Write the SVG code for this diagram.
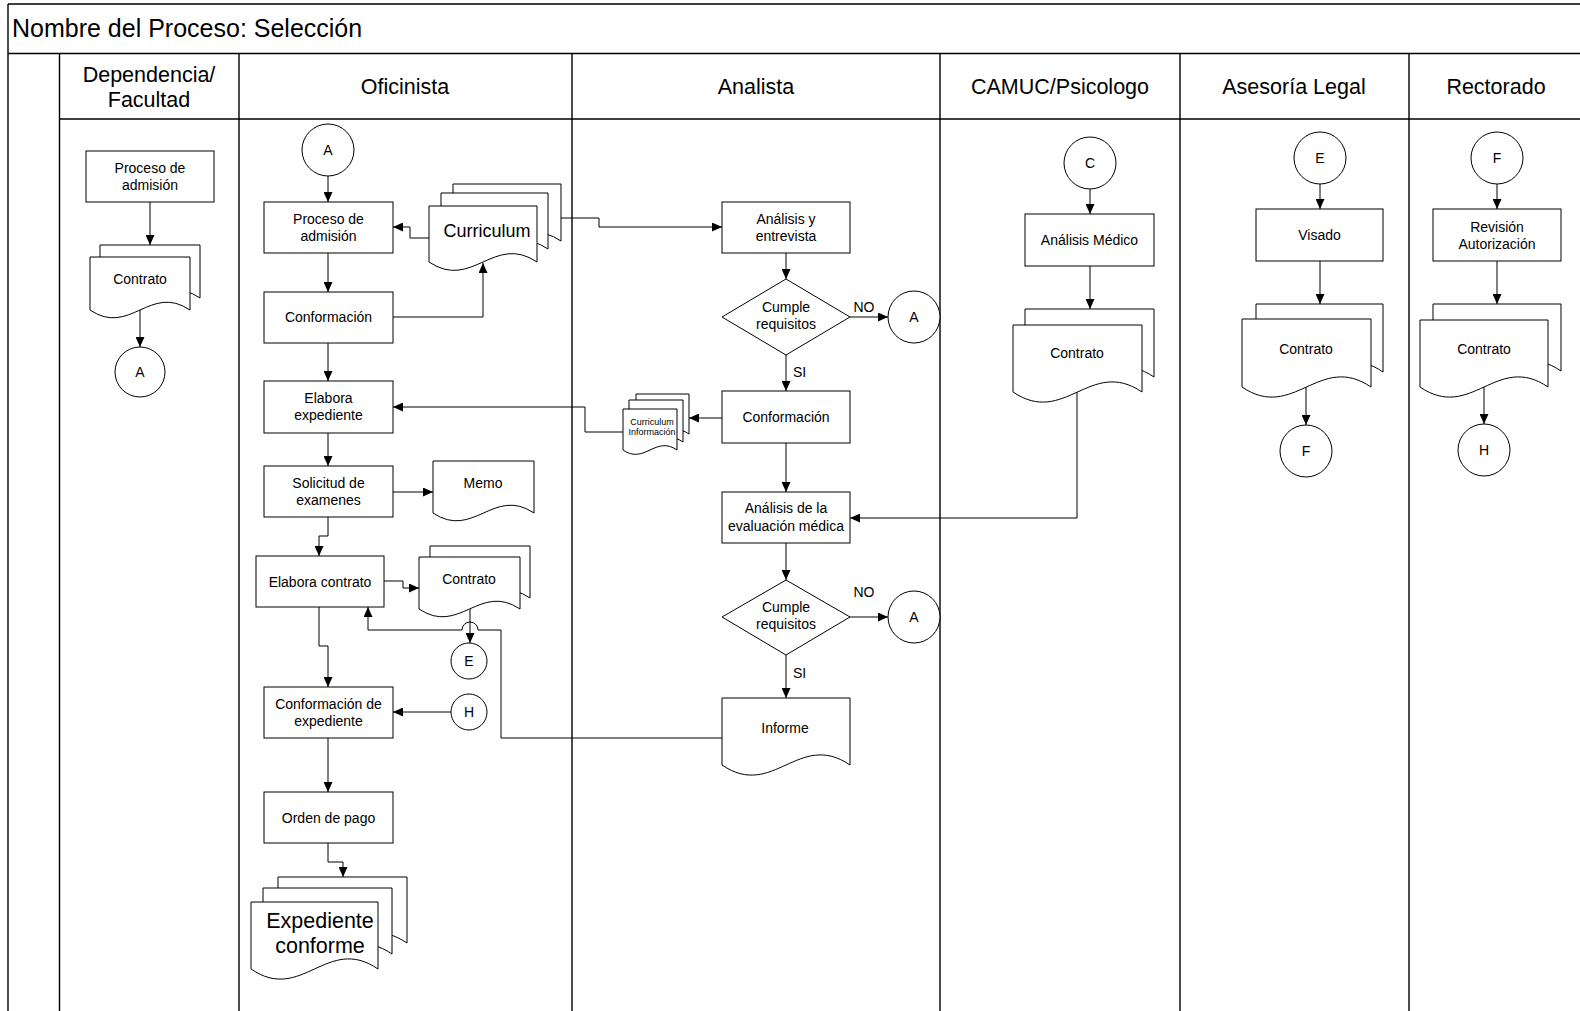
<svg xmlns="http://www.w3.org/2000/svg" width="1580" height="1011" viewBox="0 0 1580 1011">
  <defs>
    <marker id="arr" viewBox="0 0 10 9" refX="10" refY="4.5" markerWidth="10" markerHeight="9" markerUnits="userSpaceOnUse" orient="auto">
      <path d="M0,0 L10,4.5 L0,9 Z" fill="#000"/>
    </marker>
    <style>
      .lane { stroke: #000; stroke-width: 1.4; fill: none; }
      .box { fill: #fff; stroke: #000; stroke-width: 1; }
      .conn { fill: none; stroke: #000; stroke-width: 1; }
      .arrow { marker-end: url(#arr); }
      text { font-family: "Liberation Sans", Arial, sans-serif; fill: #000; }
      .t { font-size: 14px; text-anchor: middle; }
      .h { font-size: 21.5px; text-anchor: middle; }
      .lbl { font-size: 14px; }
      .sm { font-size: 9px; text-anchor: middle; }
    </style>
  </defs>

  <rect x="0" y="0" width="1580" height="1011" fill="#fff"/>

  <!-- Swimlane frame -->
  <g id="frame">
    <path class="lane" d="M8,4 H1580 M8,4 V1011 M8,53.5 H1580 M59.5,119 H1580"/>
    <path class="lane" d="M59.5,53.5 V1011 M239,53.5 V1011 M572,53.5 V1011 M940,53.5 V1011 M1180,53.5 V1011 M1409,53.5 V1011"/>
    <text x="12" y="37" style="font-size:25px">Nombre del Proceso: Selección</text>
    <text class="h" x="149" y="82">Dependencia/</text>
    <text class="h" x="149" y="107">Facultad</text>
    <text class="h" x="405" y="94">Oficinista</text>
    <text class="h" x="756" y="94">Analista</text>
    <text class="h" x="1060" y="94">CAMUC/Psicologo</text>
    <text class="h" x="1294" y="94">Asesoría Legal</text>
    <text class="h" x="1496" y="94">Rectorado</text>
  </g>

  <!-- Connectors -->
  <g id="connectors">
    <!-- Dependencia / Facultad -->
    <path class="conn arrow" d="M150,202 V245"/>
    <path class="conn arrow" d="M140,310 V347"/>
    <!-- Oficinista -->
    <path class="conn arrow" d="M328,176 V202"/>
    <path class="conn arrow" d="M328,253 V292"/>
    <path class="conn arrow" d="M328,343 V381"/>
    <path class="conn arrow" d="M328,433 V466"/>
    <path class="conn arrow" d="M393,492 H433"/>
    <path class="conn arrow" d="M328,517 V536 H319 V556"/>
    <path class="conn arrow" d="M384,581 H403 V588 H419"/>
    <path class="conn arrow" d="M470,609 V643"/>
    <path class="conn arrow" d="M319,607 V646 H328 V687"/>
    <path class="conn arrow" d="M451,712 H393"/>
    <path class="conn arrow" d="M328,738 V792"/>
    <path class="conn arrow" d="M328,843 V862 H343 V877"/>
    <path class="conn arrow" d="M429,238 H410 V227 H393"/>
    <path class="conn arrow" d="M393,317 H483 V263"/>
    <path class="conn arrow" d="M561,218 H599 V227 H722"/>
    <path class="conn arrow" d="M623,432 H585 V407 H393"/>
    <path class="conn arrow" d="M722,738 H501 V630 H478 A8,8 0 0 0 462,630 H368 V607"/>
    <!-- Analista -->
    <path class="conn arrow" d="M786,253 V279"/>
    <path class="conn arrow" d="M850,317 H888"/>
    <path class="conn arrow" d="M786,355 V391"/>
    <path class="conn arrow" d="M722,418 H689"/>
    <path class="conn arrow" d="M786,443 V492"/>
    <path class="conn arrow" d="M786,543 V580"/>
    <path class="conn arrow" d="M850,617 H888"/>
    <path class="conn arrow" d="M786,655 V698"/>
    <!-- CAMUC / Psicologo -->
    <path class="conn arrow" d="M1090,189 V214"/>
    <path class="conn arrow" d="M1090,266 V309"/>
    <path class="conn arrow" d="M1077,392 V518 H850"/>
    <!-- Asesoría Legal -->
    <path class="conn arrow" d="M1320,184 V209"/>
    <path class="conn arrow" d="M1320,261 V304"/>
    <path class="conn arrow" d="M1306,387 V425"/>
    <!-- Rectorado -->
    <path class="conn arrow" d="M1497,184 V209"/>
    <path class="conn arrow" d="M1497,261 V304"/>
    <path class="conn arrow" d="M1484,387 V424"/>
    <!-- decision labels -->
    <text class="lbl" x="864" y="312" text-anchor="middle">NO</text>
    <text class="lbl" x="793" y="377">SI</text>
    <text class="lbl" x="864" y="597" text-anchor="middle">NO</text>
    <text class="lbl" x="793" y="678">SI</text>
  </g>

  <!-- Dependencia / Facultad lane -->
  <g id="dep-proceso">
    <rect class="box" x="86" y="151" width="128" height="51"/>
    <text class="t" x="150" y="172.5">Proceso de</text>
    <text class="t" x="150" y="189.5">admisión</text>
  </g>
  <g id="dep-contrato">
    <path class="box" d="M100,245 H200 V298 C160,271 140,325 100,298 Z"/>
    <path class="box" d="M90,257 H190 V310 C150,283 130,337 90,310 Z"/>
    <text class="t" x="140" y="284">Contrato</text>
  </g>
  <g id="dep-conector-a">
    <circle class="box" cx="140" cy="372" r="25"/>
    <text class="t" x="140" y="377">A</text>
  </g>

  <!-- Oficinista lane -->
  <g id="ofi-conector-a">
    <circle class="box" cx="328" cy="150" r="26"/>
    <text class="t" x="328" y="155">A</text>
  </g>
  <g id="ofi-proceso">
    <rect class="box" x="264" y="202" width="129" height="51"/>
    <text class="t" x="328.5" y="223.5">Proceso de</text>
    <text class="t" x="328.5" y="240.5">admisión</text>
  </g>
  <g id="ofi-curriculum">
    <path class="box" d="M453,184 H561 V241 C517.8,212 496.2,270 453,241 Z"/>
    <path class="box" d="M441,193 H548 V249 C505.2,220 483.8,278 441,249 Z"/>
    <path class="box" d="M429,206 H537 V262 C493.8,233 472.2,291 429,262 Z"/>
    <text x="487" y="237" style="font-size:18px" text-anchor="middle">Curriculum</text>
  </g>
  <g id="ofi-conformacion">
    <rect class="box" x="264" y="292" width="129" height="51"/>
    <text class="t" x="328.5" y="322">Conformación</text>
  </g>
  <g id="ofi-elabora-expediente">
    <rect class="box" x="264" y="381" width="129" height="52"/>
    <text class="t" x="328.5" y="402.5">Elabora</text>
    <text class="t" x="328.5" y="419.5">expediente</text>
  </g>
  <g id="ofi-solicitud">
    <rect class="box" x="264" y="466" width="129" height="51"/>
    <text class="t" x="328.5" y="487.5">Solicitud de</text>
    <text class="t" x="328.5" y="504.5">examenes</text>
  </g>
  <g id="ofi-memo">
    <path class="box" d="M433,461 H534 V513 C493.6,486 473.4,540 433,513 Z"/>
    <text class="t" x="483" y="488">Memo</text>
  </g>
  <g id="ofi-elabora-contrato">
    <rect class="box" x="256" y="556" width="128" height="51"/>
    <text class="t" x="320" y="586.5">Elabora contrato</text>
  </g>
  <g id="ofi-contrato">
    <path class="box" d="M430,546 H530 V598 C490,571 470,625 430,598 Z"/>
    <path class="box" d="M419,557 H520 V609 C479.6,582 459.4,636 419,609 Z"/>
    <text class="t" x="469" y="584">Contrato</text>
  </g>
  <g id="ofi-conector-e">
    <circle class="box" cx="469" cy="661" r="18"/>
    <text class="t" x="469" y="666">E</text>
  </g>
  <g id="ofi-conformacion-expediente">
    <rect class="box" x="264" y="687" width="129" height="51"/>
    <text class="t" x="328.5" y="708.5">Conformación de</text>
    <text class="t" x="328.5" y="725.5">expediente</text>
  </g>
  <g id="ofi-conector-h">
    <circle class="box" cx="469" cy="712" r="18"/>
    <text class="t" x="469" y="717">H</text>
  </g>
  <g id="ofi-orden-pago">
    <rect class="box" x="264" y="792" width="129" height="51"/>
    <text class="t" x="328.5" y="822.5">Orden de pago</text>
  </g>
  <g id="ofi-expediente-conforme">
    <path class="box" d="M278,877 H407 V943 C355.4,908 329.6,978 278,943 Z"/>
    <path class="box" d="M263,888 H392 V954 C340.4,919 314.6,989 263,954 Z"/>
    <path class="box" d="M251,902 H378 V969 C327.2,934 301.8,1004 251,969 Z"/>
    <text x="320" y="928" style="font-size:21.5px" text-anchor="middle">Expediente</text>
    <text x="320" y="953" style="font-size:21.5px" text-anchor="middle">conforme</text>
  </g>

  <!-- Analista lane -->
  <g id="ana-analisis-entrevista">
    <rect class="box" x="722" y="202" width="128" height="51"/>
    <text class="t" x="786" y="223.5">Análisis y</text>
    <text class="t" x="786" y="240.5">entrevista</text>
  </g>
  <g id="ana-decision-1">
    <polygon class="box" points="786,279 850,317 786,355 722,317"/>
    <text class="t" x="786" y="312">Cumple</text>
    <text class="t" x="786" y="329">requisitos</text>
  </g>
  <g id="ana-conector-a1">
    <circle class="box" cx="914" cy="317" r="26"/>
    <text class="t" x="914" y="322">A</text>
  </g>
  <g id="ana-conformacion">
    <rect class="box" x="722" y="391" width="128" height="52"/>
    <text class="t" x="786" y="422">Conformación</text>
  </g>
  <g id="ana-curriculum-informacion">
    <path class="box" d="M636,394 H689 V434 C667.8,419 657.2,449 636,434 Z"/>
    <path class="box" d="M629,400 H683 V442 C661.4,427 650.6,457 629,442 Z"/>
    <path class="box" d="M623,409 H677 V450 C655.4,435 644.6,465 623,450 Z"/>
    <text class="sm" x="652" y="425">Curriculum</text>
    <text class="sm" x="652" y="435">Información</text>
  </g>
  <g id="ana-evaluacion-medica">
    <rect class="box" x="722" y="492" width="128" height="51"/>
    <text class="t" x="786" y="513">Análisis de la</text>
    <text class="t" x="786" y="530.5">evaluación médica</text>
  </g>
  <g id="ana-decision-2">
    <polygon class="box" points="786,580 850,617 786,655 722,617"/>
    <text class="t" x="786" y="612">Cumple</text>
    <text class="t" x="786" y="629">requisitos</text>
  </g>
  <g id="ana-conector-a2">
    <circle class="box" cx="914" cy="617" r="26"/>
    <text class="t" x="914" y="622">A</text>
  </g>
  <g id="ana-informe">
    <path class="box" d="M722,698 H850 V765 C798.8,730 773.2,800 722,765 Z"/>
    <text class="t" x="785" y="733">Informe</text>
  </g>

  <!-- CAMUC / Psicologo lane -->
  <g id="cam-conector-c">
    <circle class="box" cx="1090" cy="163" r="26"/>
    <text class="t" x="1090" y="168">C</text>
  </g>
  <g id="cam-analisis-medico">
    <rect class="box" x="1025" y="214" width="129" height="52"/>
    <text class="t" x="1089.5" y="245">Análisis Médico</text>
  </g>
  <g id="cam-contrato">
    <path class="box" d="M1025,309 H1154 V377 C1102.4,342 1076.6,412 1025,377 Z"/>
    <path class="box" d="M1013,325 H1142 V392 C1090.4,357 1064.6,427 1013,392 Z"/>
    <text class="t" x="1077" y="358">Contrato</text>
  </g>

  <!-- Asesoría Legal lane -->
  <g id="leg-conector-e">
    <circle class="box" cx="1320" cy="158" r="26"/>
    <text class="t" x="1320" y="163">E</text>
  </g>
  <g id="leg-visado">
    <rect class="box" x="1256" y="209" width="127" height="52"/>
    <text class="t" x="1319.5" y="240">Visado</text>
  </g>
  <g id="leg-contrato">
    <path class="box" d="M1256,304 H1383 V372 C1332.2,337 1306.8,407 1256,372 Z"/>
    <path class="box" d="M1242,319 H1371 V387 C1319.4,352 1293.6,422 1242,387 Z"/>
    <text class="t" x="1306" y="354">Contrato</text>
  </g>
  <g id="leg-conector-f">
    <circle class="box" cx="1306" cy="451" r="26"/>
    <text class="t" x="1306" y="456">F</text>
  </g>

  <!-- Rectorado lane -->
  <g id="rec-conector-f">
    <circle class="box" cx="1497" cy="158" r="26"/>
    <text class="t" x="1497" y="163">F</text>
  </g>
  <g id="rec-revision">
    <rect class="box" x="1433" y="209" width="128" height="52"/>
    <text class="t" x="1497" y="231.5">Revisión</text>
    <text class="t" x="1497" y="248.5">Autorización</text>
  </g>
  <g id="rec-contrato">
    <path class="box" d="M1433,304 H1561 V371 C1509.8,336 1484.2,406 1433,371 Z"/>
    <path class="box" d="M1420,320 H1548 V387 C1496.8,352 1471.2,422 1420,387 Z"/>
    <text class="t" x="1484" y="354">Contrato</text>
  </g>
  <g id="rec-conector-h">
    <circle class="box" cx="1484" cy="450" r="26"/>
    <text class="t" x="1484" y="455">H</text>
  </g>
</svg>
